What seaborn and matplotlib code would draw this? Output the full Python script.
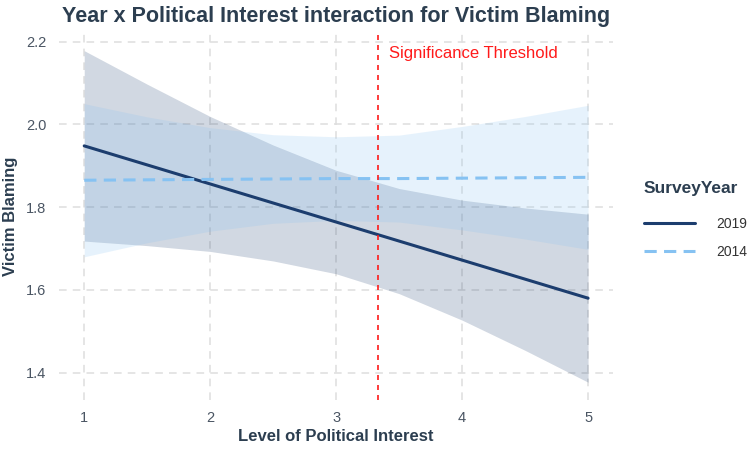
import matplotlib

matplotlib.use("Agg")
import matplotlib.pyplot as plt
import pandas as pd
import seaborn as sns

# values
interest = [1, 1.5, 2, 2.5, 3, 3.5, 4, 4.5, 5]
fit_2019 = [1.948, 1.902, 1.856, 1.810, 1.764, 1.718, 1.672, 1.626, 1.580]
lower_2019 = [1.718, 1.707, 1.693, 1.670, 1.639, 1.591, 1.527, 1.454, 1.377]
upper_2019 = [2.178, 2.097, 2.019, 1.950, 1.889, 1.845, 1.817, 1.798, 1.783]
fit_2014 = [1.865, 1.866, 1.867, 1.868, 1.869, 1.869, 1.870, 1.871, 1.872]
lower_2014 = [1.680, 1.714, 1.742, 1.761, 1.768, 1.764, 1.745, 1.723, 1.698]
upper_2014 = [2.050, 2.018, 1.992, 1.975, 1.970, 1.974, 1.995, 2.019, 2.046]
years = ["2019", "2014"]
threshold = 3.33

colors = {"2019": "#1c3d6e", "2014": "#86c2f2"}
text_dark = "#2c3e50"


def main() -> None:
    sns.set_theme(style="whitegrid")
    plt.rcParams["font.family"] = ["Liberation Sans", "DejaVu Sans"]

    df = pd.concat(
        [
            pd.DataFrame({"Interest": interest, "Blaming": fit_2019, "SurveyYear": "2019"}),
            pd.DataFrame({"Interest": interest, "Blaming": fit_2014, "SurveyYear": "2014"}),
        ],
        ignore_index=True,
    )

    fig = plt.figure(figsize=(7.51, 4.5), dpi=100)
    ax = fig.add_axes([0.0786, 0.112, 0.738, 0.814])

    ax.fill_between(interest, lower_2019, upper_2019, color=colors["2019"], alpha=0.2, lw=0)
    ax.fill_between(interest, lower_2014, upper_2014, color=colors["2014"], alpha=0.2, lw=0)

    sns.lineplot(
        data=df,
        x="Interest",
        y="Blaming",
        hue="SurveyYear",
        style="SurveyYear",
        hue_order=years,
        style_order=years,
        palette=colors,
        dashes={"2019": "", "2014": (4.0, 2.4)},
        linewidth=2.2,
        ax=ax,
    )

    ax.axvline(threshold, color="#ff1a1a", linestyle=(0, (3, 3)), linewidth=1.2)
    ax.text(threshold + 0.09, 2.172, "Significance Threshold", color="#ff1a1a",
            fontsize=12, va="center", ha="left")

    ax.set_xlim(0.8, 5.2)
    ax.set_ylim(1.335, 2.22)
    ax.set_xticks([1, 2, 3, 4, 5])
    ax.set_yticks([1.4, 1.6, 1.8, 2.0, 2.2])
    ax.set_yticklabels(["1.4", "1.6", "1.8", "2.0", "2.2"])
    ax.grid(True, color="#dedede", linestyle=(0, (5, 4)), linewidth=1.1)
    for spine in ax.spines.values():
        spine.set_visible(False)
    ax.tick_params(axis="both", length=0, labelsize=10.5, labelcolor="#4a5563")
    ax.tick_params(axis="x", pad=8)
    ax.tick_params(axis="y", pad=9)

    ax.set_title("Year x Political Interest interaction for Victim Blaming",
                 fontsize=15.5, fontweight="bold", color=text_dark, pad=8)
    ax.set_xlabel("Level of Political Interest", fontsize=12, fontweight="bold",
                  color=text_dark, labelpad=3)
    ax.set_ylabel("Victim Blaming", fontsize=12, fontweight="bold", color=text_dark,
                  labelpad=6)

    handles, labels = ax.get_legend_handles_labels()
    leg = ax.legend(
        handles,
        labels,
        title="SurveyYear",
        loc="center left",
        bbox_to_anchor=(1.033, 0.49),
        frameon=False,
        fontsize=10,
        title_fontsize=12.5,
        handlelength=3.7,
        handletextpad=1.5,
        labelspacing=1.0,
    )
    leg.get_title().set_fontweight("bold")
    leg.get_title().set_color(text_dark)
    leg._legend_box.align = "left"
    leg._legend_box.sep = 15
    for t in leg.get_texts():
        t.set_color("#333333")

    fig.savefig("out.png", dpi=100)
    plt.close(fig)


if __name__ == "__main__":
    main()
